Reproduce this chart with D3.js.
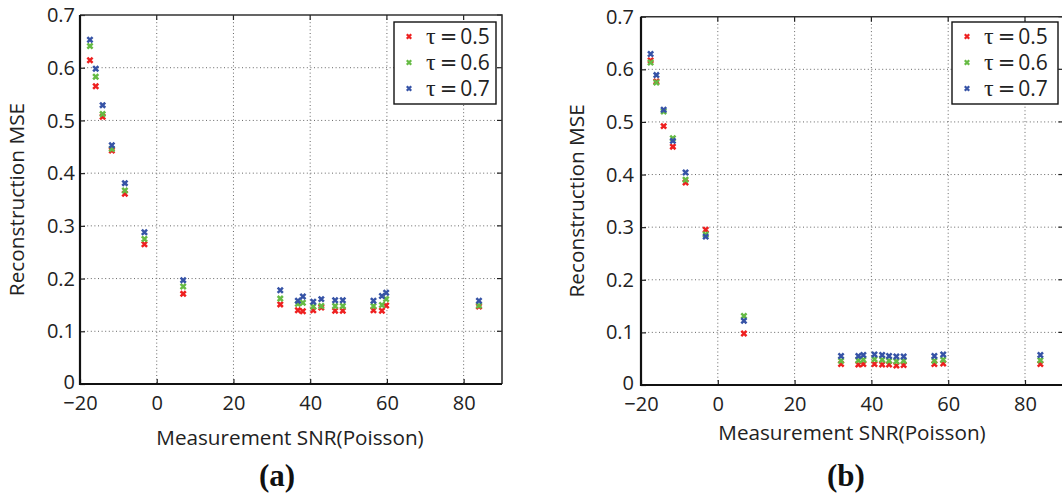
<!DOCTYPE html>
<html><head><meta charset="utf-8">
<script src="https://cdn.jsdelivr.net/npm/d3@7"></script>
<style>body{margin:0;background:#fff}svg{display:block}</style>
</head><body>
<script>
// ---- data ----
const snrA   = [-17.4,-15.9,-14.1,-11.7,-8.3,-3.2,6.9,32.2,36.8,38.1,40.8,42.9,46.5,48.5,56.5,58.7,59.8,84.0];
const tau05A = [0.614,0.565,0.507,0.443,0.361,0.265,0.171,0.151,0.140,0.138,0.140,0.145,0.139,0.139,0.140,0.139,0.149,0.147];
const tau06A = [0.641,0.583,0.512,0.446,0.367,0.275,0.185,0.162,0.152,0.154,0.147,0.148,0.148,0.148,0.148,0.150,0.161,0.149];
const tau07A = [0.653,0.598,0.529,0.453,0.381,0.288,0.197,0.178,0.158,0.166,0.156,0.161,0.159,0.159,0.158,0.167,0.173,0.158];

const snrB   = [-17.5,-16.0,-14.1,-11.7,-8.4,-3.15,6.8,32.1,36.6,37.9,40.8,42.8,44.6,46.5,48.4,56.4,58.7,84.0];
const tau05B = [0.617,0.577,0.492,0.453,0.385,0.295,0.098,0.040,0.039,0.040,0.040,0.039,0.039,0.037,0.038,0.040,0.041,0.040];
const tau06B = [0.613,0.575,0.520,0.469,0.390,0.286,0.131,0.046,0.047,0.048,0.049,0.048,0.046,0.045,0.046,0.046,0.048,0.047];
const tau07B = [0.629,0.589,0.523,0.464,0.404,0.282,0.122,0.055,0.055,0.057,0.058,0.057,0.055,0.054,0.054,0.055,0.058,0.057];

const seriesNames = ["0.5","0.6","0.7"];
const seriesColors = ["#ee2020","#66bb44","#3653a6"];
const xTicks = [-20,0,20,40,60,80];
const yTicks = [0,0.1,0.2,0.3,0.4,0.5,0.6,0.7];
const xLabel = "Measurement SNR(Poisson)";
const yLabel = "Reconstruction MSE";
const panelLabels = ["(a)","(b)"];

const W = 1062, H = 495;
const svg = d3.select("body").append("svg").attr("width",W).attr("height",H);
svg.append("rect").attr("width",W).attr("height",H).attr("fill","#fff");

const sans = "'Open Sans', 'Noto Sans', sans-serif";

function panel(cfg){
  const {x0,x1,y0,y1,snr,series,label,legend,xTitleY,xTitleCx,yTitleX,labelX} = cfg;
  const x = d3.scaleLinear().domain([-20,90]).range([x0,x1]);
  const y = d3.scaleLinear().domain([0,0.7]).range([y1,y0]);
  const g = svg.append("g");
  // grid
  g.append("g").selectAll("line").data(xTicks.slice(1)).join("line")
    .attr("x1",d=>x(d)).attr("x2",d=>x(d)).attr("y1",y0).attr("y2",y1)
    .attr("stroke","#666").attr("stroke-width",1).attr("stroke-dasharray","1,2.6");
  g.append("g").selectAll("line").data(yTicks.slice(1,-1)).join("line")
    .attr("x1",x0).attr("x2",x1).attr("y1",d=>y(d)).attr("y2",d=>y(d))
    .attr("stroke","#666").attr("stroke-width",1).attr("stroke-dasharray","1,2.6");
  // axes via d3
  const ax = g.append("g").attr("transform",`translate(0,${y1})`)
    .call(d3.axisBottom(x).tickValues(xTicks).tickSize(-5).tickPadding(14).tickFormat(d=>d<0?"\u2212"+Math.abs(d):d));
  const ay = g.append("g").attr("transform",`translate(${x0},0)`)
    .call(d3.axisLeft(y).tickValues(yTicks).tickSize(-5).tickPadding(cfg.yPad).tickFormat(d=>d===0?"0":d3.format(".1f")(d)));
  [ax,ay].forEach(a=>{
    a.selectAll("text").attr("font-family",sans).attr("font-size",20).attr("fill","#222");
    a.selectAll(".tick line").attr("stroke","#222").attr("stroke-width",1.2);
    a.select(".domain").remove();
  });
  ax.selectAll("text").attr("dy",null).attr("y",26);
  ay.selectAll("text").attr("dy","0.33em");
  ay.selectAll(".tick").filter(d=>d===0).select("text").attr("dy","0.2em");
  // top/right ticks
  g.append("g").selectAll("line").data(xTicks).join("line")
    .attr("x1",d=>x(d)).attr("x2",d=>x(d)).attr("y1",y0).attr("y2",y0+5).attr("stroke","#222").attr("stroke-width",1.2);
  g.append("g").selectAll("line").data(yTicks).join("line")
    .attr("x1",x1).attr("x2",x1-5).attr("y1",d=>y(d)).attr("y2",d=>y(d)).attr("stroke","#222").attr("stroke-width",1.2);
  // box
  g.append("path").attr("d",`M${x0},${y0}H${x1}V${y1}`).attr("fill","none").attr("stroke","#333").attr("stroke-width",1.6);
  g.append("path").attr("d",`M${x0},${y0}V${y1}H${x1}`).attr("fill","none").attr("stroke","#111").attr("stroke-width",2.2);
  // points
  const cross = "M-2.6,-2.6L2.6,2.6M-2.6,2.6L2.6,-2.6";
  series.forEach((vals,si)=>{
    g.append("g").selectAll("path").data(vals.map((v,i)=>[snr[i],v])).join("path")
      .attr("d",cross).attr("transform",d=>`translate(${x(d[0])},${y(d[1])})`)
      .attr("stroke",seriesColors[si]).attr("stroke-width",2.5).attr("fill","none");
  });
  // legend
  const L = legend;
  g.append("rect").attr("x",L.x).attr("y",L.y).attr("width",L.w).attr("height",L.h)
    .attr("fill","#fff").attr("stroke","#111").attr("stroke-width",1.4);
  seriesNames.forEach((n,i)=>{
    const cy = L.y + 14.5 + i*26;
    g.append("path").attr("d","M-2.2,-2.2L2.2,2.2M-2.2,2.2L2.2,-2.2").attr("transform",`translate(${L.x+15},${cy})`)
      .attr("stroke",seriesColors[i]).attr("stroke-width",2.3);
    const t = g.append("text").attr("x",L.x+32).attr("y",cy+7.5).attr("fill","#222").attr("font-size",21);
    t.append("tspan").attr("font-family","'Liberation Serif','DejaVu Serif',serif").attr("font-size",24).text("\u03C4");
    t.append("tspan").attr("font-family","'DejaVu Sans',sans-serif").attr("dx",4).text("=");
    t.append("tspan").attr("font-family",sans).attr("dx",3).text(n);
  });
  // titles
  g.append("text").attr("x",xTitleCx).attr("y",xTitleY)
    .attr("text-anchor","middle").attr("font-family",sans).attr("font-size",20.7).attr("fill","#222").text(xLabel);
  g.append("text").attr("transform",`translate(${yTitleX},${(y0+y1)/2}) rotate(-90)`)
    .attr("text-anchor","middle").attr("font-family",sans).attr("font-size",20.8).attr("fill","#222").text(yLabel);
  g.append("text").attr("x",labelX).attr("y",486).attr("text-anchor","middle")
    .attr("font-family","'Liberation Serif','DejaVu Serif',serif").attr("font-weight","bold").attr("font-size",31).attr("fill","#111").text(label);
}

panel({x0:80,x1:502,y0:15,y1:384,snr:snrA,series:[tau05A,tau06A,tau07A],label:panelLabels[0],
  legend:{x:394,y:22,w:102,h:82},xTitleY:445,xTitleCx:290,yTitleX:24,labelX:277,yPad:5});
panel({x0:641,x1:1063.4,y0:16.7,y1:385,snr:snrB,series:[tau05B,tau06B,tau07B],label:panelLabels[1],
  legend:{x:952,y:22,w:106,h:82},xTitleY:440,xTitleCx:852,yTitleX:584,labelX:846,yPad:7});
</script>
</body></html>
